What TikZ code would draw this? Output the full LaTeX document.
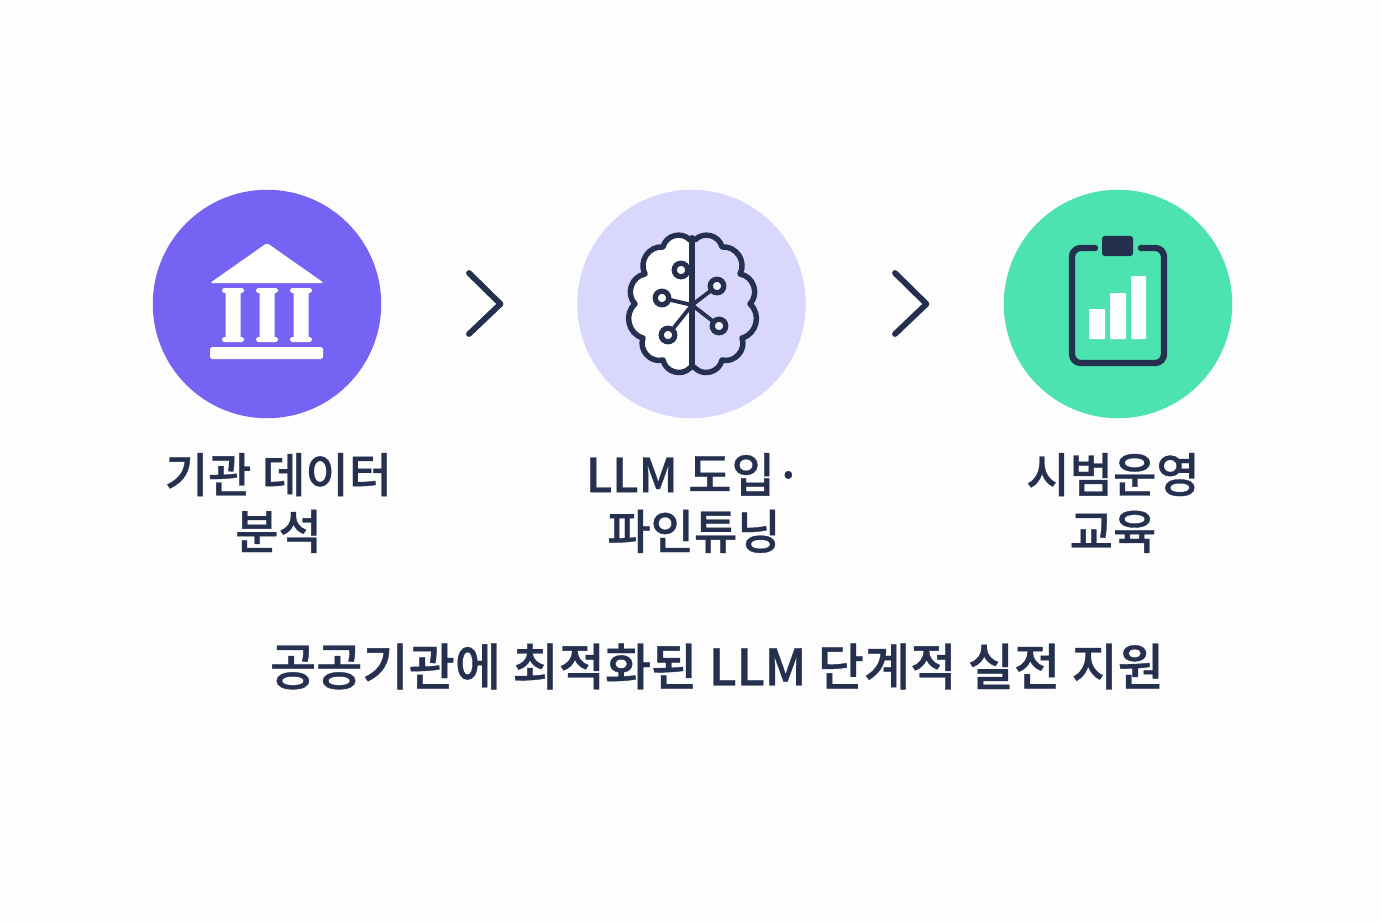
\documentclass[tikz,border=0pt]{standalone}
\usepackage{xcolor}
\usepackage{fontspec}
\usepackage{tikz}
\setmainfont{Noto Sans CJK KR}[BoldFont={Noto Sans CJK KR Medium},BoldFeatures={FakeBold=0.7}]

\definecolor{navy}{HTML}{25304F}
\definecolor{violet}{HTML}{7763F3}
\definecolor{lavender}{HTML}{DAD7FC}
\definecolor{mint}{HTML}{4CE3B1}
\definecolor{paper}{HTML}{FDFDFE}

\tikzset{
	disc/.style={circle, inner sep=0pt, minimum size=4.57cm},
	steplabel/.style={text=navy, align=center, font=\fontsize{26.8}{32.3}\selectfont\bfseries},
	chevron/.style={draw=navy, line width=3.3pt, line cap=round, line join=round},
	wire/.style={draw=navy, line width=3.1pt, line cap=round, line join=round},
	synapse/.style={circle, draw=navy, line width=3pt, fill=white, inner sep=0pt, minimum size=0.27cm},
	lobe/.style={bend right=62, looseness=1.12},
	rlobe/.style={bend left=62, looseness=1.12},
	bar/.style={fill=white, rounded corners=0.5pt},
}

\begin{document}
\begin{tikzpicture}[x=0.02cm, y=-0.02cm]
		\useasboundingbox (0,0) rectangle (1382,922);
		\fill[paper] (0,0) rectangle (1382,922);

		\node[disc, fill=violet]   (bankdisc)  at (267,304) {};
		\node[disc, fill=lavender] (braindisc) at (691.5,304) {};
		\node[disc, fill=mint]     (chartdisc) at (1118,304) {};

		% bank
		\fill[white, rounded corners=1pt] (267,243) -- (324,283) -- (210,283) -- cycle;
		\foreach \x in {233,267,301} {
			\fill[white, rounded corners=1pt] (\x-7.5,290) rectangle (\x+7.5,340);
			\fill[white, rounded corners=1pt] (\x-11,288) rectangle (\x+11,293);
			\fill[white, rounded corners=1pt] (\x-11,337) rectangle (\x+11,342);
		}
		\fill[white, rounded corners=1pt] (210,347) rectangle (323,359);

		% brain
		\path[wire, fill=white] (692,238) -- (690,240) to[lobe] (663,247) to[lobe] (645,274)
			to[lobe] (635,304) to[lobe] (643,338) to[lobe] (663,360) to[lobe] (690,368) -- (692,366) -- cycle;
		\path[wire] (692,238) -- (695,240) to[rlobe] (722,247) to[rlobe] (740,274)
			to[rlobe] (750,304) to[rlobe] (742,338) to[rlobe] (722,360) to[rlobe] (695,368) -- (692,366);
		\draw[wire] (692,238) -- (692,366);
		\coordinate (hub) at (692,305);
		\node[synapse] (synA) at (681,270) {};
		\node[synapse] (synB) at (662,298) {};
		\node[synapse] (synC) at (668,335) {};
		\node[synapse, fill=lavender!30!white] (synD) at (717,286) {};
		\node[synapse, fill=lavender!30!white] (synE) at (719,326) {};
		\foreach \s in {synB,synC,synD,synE} {
			\draw[wire, line width=2.2pt] (hub) -- (\s);
		}

		% clipboard
		\draw[wire, line width=3.6pt, rounded corners=5pt] (1095,248) -- (1072,248) -- (1072,363) -- (1164,363) -- (1164,248) -- (1141,248);
		\fill[navy, rounded corners=1.5pt] (1102,236) rectangle (1133,256);
		\fill[bar] (1089,309) rectangle (1105,339);
		\fill[bar] (1110,293) rectangle (1126,339);
		\fill[bar] (1131,276) rectangle (1146,339);

		% arrows
		\draw[chevron] (469,273) -- (500.5,304) -- (469,334);
		\draw[chevron] (895,273) -- (926.5,304) -- (895,334);

		\node[steplabel] (banklabel)  at (278.5,503) {기관 데이터\\분석};
		\node[steplabel] (brainlabel) at (694,503) {LLM 도입·\\파인튜닝};
		\node[steplabel] (chartlabel) at (1113,503) {시범운영\\교육};
		\node[steplabel, font=\fontsize{28.6}{32.3}\selectfont\bfseries] (summary) at (717,666.5) {공공기관에 최적화된 LLM 단계적 실전 지원};
	\end{tikzpicture}
\end{document}
